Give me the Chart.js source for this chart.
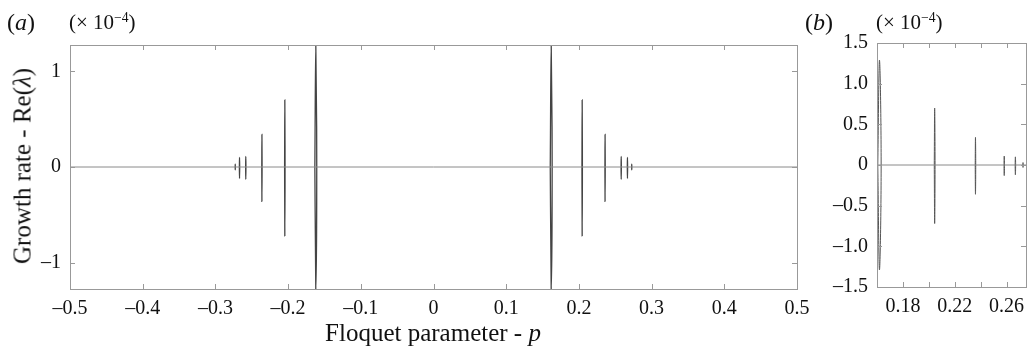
<!DOCTYPE html>
<html>
<head>
<meta charset="utf-8">
<script src="https://cdn.jsdelivr.net/npm/chart.js@4"></script>
<style>
  body { margin: 0; background: #fff; }
  #wrap { position: relative; width: 1029px; height: 346px; font-family: 'Liberation Serif', serif; color: #111; }
  canvas { position: absolute; top: 0; }
  .lbl { position: absolute; white-space: nowrap; line-height: 1; }
  .lbl sup { font-size: 0.65em; vertical-align: 0.55em; line-height: 0; }
</style>
</head>
<body>
<div id="wrap">
  <div style="position:absolute;left:0;top:0;width:815px;height:346px"><canvas id="chartA"></canvas></div>
  <div style="position:absolute;left:790px;top:0;width:239px;height:346px"><canvas id="chartB"></canvas></div>

  <div class="lbl" style="left:7px;top:10px;font-size:24px">(<i>a</i>)</div>
  <div class="lbl" style="left:69px;top:12px;font-size:21px">(× 10<sup>−4</sup>)</div>
  <div class="lbl" style="left:805px;top:10px;font-size:24px">(<i>b</i>)</div>
  <div class="lbl" style="left:876px;top:12px;font-size:21px">(× 10<sup>−4</sup>)</div>
  <div class="lbl" style="left:22px;top:166px;font-size:25px;transform:translate(-50%,-50%) rotate(-90deg)">Growth rate - Re(<i>λ</i>)</div>
  <div class="lbl" style="left:433px;top:320px;font-size:25px;transform:translateX(-50%)">Floquet parameter - <i>p</i></div>
</div>

<script>
// instability bubbles (positive p side), Re(lambda) in units of 1e-4
const bubbleP = [0.1619, 0.2045, 0.2360, 0.2582, 0.2668, 0.2727];
const ampUp = [1.29, 0.70, 0.34, 0.11, 0.10, 0.03];
const ampDown = [1.29, 0.72, 0.36, 0.13, 0.12, 0.03];
const halfWidth = [0.0013, 0.0003, 0.0002, 0.0002, 0.0002, 0.0001];

const xTicksA = [-0.5, -0.4, -0.3, -0.2, -0.1, 0, 0.1, 0.2, 0.3, 0.4, 0.5];
const yTicksA = [-1, 0, 1];
const xTicksB = [0.18, 0.20, 0.22, 0.24, 0.26];
const xLabelsB = [0.18, 0.22, 0.26];
const yTicksB = [-1.5, -1.0, -0.5, 0, 0.5, 1.0, 1.5];

const tickFont = { family: 'Liberation Serif', size: 20 };

function fmt(v, dec) {
  if (Math.abs(v) < 1e-9) return '0';
  return (v < 0 ? '–' : '') + Math.abs(v).toFixed(dec);
}

function bubble(p, up, down, w) {
  return [{ x: p - w, y: 0 }, { x: p, y: up }, { x: p + w, y: 0 }, { x: p, y: -down }, { x: p - w, y: 0 }];
}

function makeDatasets(mirror, color, width) {
  const sets = [];
  for (let i = 0; i < bubbleP.length; i++) {
    sets.push({ data: bubble(bubbleP[i], ampUp[i], ampDown[i], halfWidth[i]), borderColor: color, borderWidth: width, tension: 0.4, pointRadius: 0 });
    if (mirror) {
      sets.push({ data: bubble(-bubbleP[i], ampUp[i], ampDown[i], halfWidth[i]), borderColor: color, borderWidth: width, tension: 0.4, pointRadius: 0 });
    }
  }
  return sets;
}

// box + inward tick marks
const frame = {
  id: 'frame',
  afterDraw(chart) {
    const ctx = chart.ctx, a = chart.chartArea;
    ctx.save();
    ctx.strokeStyle = '#999';
    ctx.lineWidth = 1;
    ctx.strokeRect(Math.round(a.left) + 0.5, Math.round(a.top) + 0.5, Math.round(a.right - a.left), Math.round(a.bottom - a.top));
    const L = 5;
    ctx.beginPath();
    chart.scales.x.ticks.forEach(t => {
      const px = Math.round(chart.scales.x.getPixelForValue(t.value)) + 0.5;
      ctx.moveTo(px, a.bottom); ctx.lineTo(px, a.bottom - L);
      ctx.moveTo(px, a.top); ctx.lineTo(px, a.top + L);
    });
    chart.scales.y.ticks.forEach(t => {
      const py = Math.round(chart.scales.y.getPixelForValue(t.value)) + 0.5;
      ctx.moveTo(a.left, py); ctx.lineTo(a.left + L, py);
      ctx.moveTo(a.right, py); ctx.lineTo(a.right - L, py);
    });
    ctx.stroke();
    ctx.restore();
  }
};

function options(cfg) {
  return {
    responsive: true,
    maintainAspectRatio: false,
    animation: false,
    layout: { padding: cfg.padding },
    plugins: { legend: { display: false }, tooltip: { enabled: false } },
    scales: {
      x: {
        type: 'linear', min: cfg.xmin, max: cfg.xmax,
        afterBuildTicks: s => { s.ticks = cfg.xticks.map(v => ({ value: v })); },
        afterFit: s => { s.height = cfg.xh; },
        grid: { display: false }, border: { display: false },
        ticks: { font: tickFont, color: '#111', padding: 0, maxRotation: 0, autoSkip: false, callback: cfg.xfmt }
      },
      y: {
        type: 'linear', min: cfg.ymin, max: cfg.ymax,
        afterBuildTicks: s => { s.ticks = cfg.yticks.map(v => ({ value: v })); },
        afterFit: s => { s.width = cfg.yw; },
        grid: { display: false }, border: { display: false },
        ticks: { font: tickFont, color: '#111', padding: 1, autoSkip: false, callback: cfg.yfmt }
      }
    }
  };
}

const dataA = makeDatasets(true, '#444', 1.3);
dataA.unshift({ data: [{ x: -0.5, y: 0 }, { x: 0.5, y: 0 }], borderColor: '#8a8a8a', borderWidth: 1, pointRadius: 0 });

new Chart('chartA', {
  type: 'line',
  data: { datasets: dataA },
  options: options({
    padding: { top: 45, right: 18, left: 0, bottom: 0 },
    xmin: -0.5, xmax: 0.5, ymin: -1.275, ymax: 1.275,
    xticks: xTicksA, yticks: yTicksA, xh: 57, yw: 70,
    xfmt: v => fmt(v, 1), yfmt: v => fmt(v, 0)
  }),
  plugins: [frame]
});

const dataB = makeDatasets(false, '#555', 1);
dataB.unshift({ data: [{ x: 0.16, y: 0 }, { x: 0.275, y: 0 }], borderColor: '#8a8a8a', borderWidth: 1, pointRadius: 0 });

new Chart('chartB', {
  type: 'line',
  data: { datasets: dataB },
  options: options({
    padding: { top: 43, right: 3, left: 0, bottom: 0 },
    xmin: 0.16, xmax: 0.275, ymin: -1.5, ymax: 1.5,
    xticks: xTicksB, yticks: yTicksB, xh: 59, yw: 87,
    xfmt: v => (xLabelsB.some(l => Math.abs(l - v) < 1e-9) ? v.toFixed(2) : ''),
    yfmt: v => fmt(v, 1)
  }),
  plugins: [frame]
});
</script>
</body>
</html>
